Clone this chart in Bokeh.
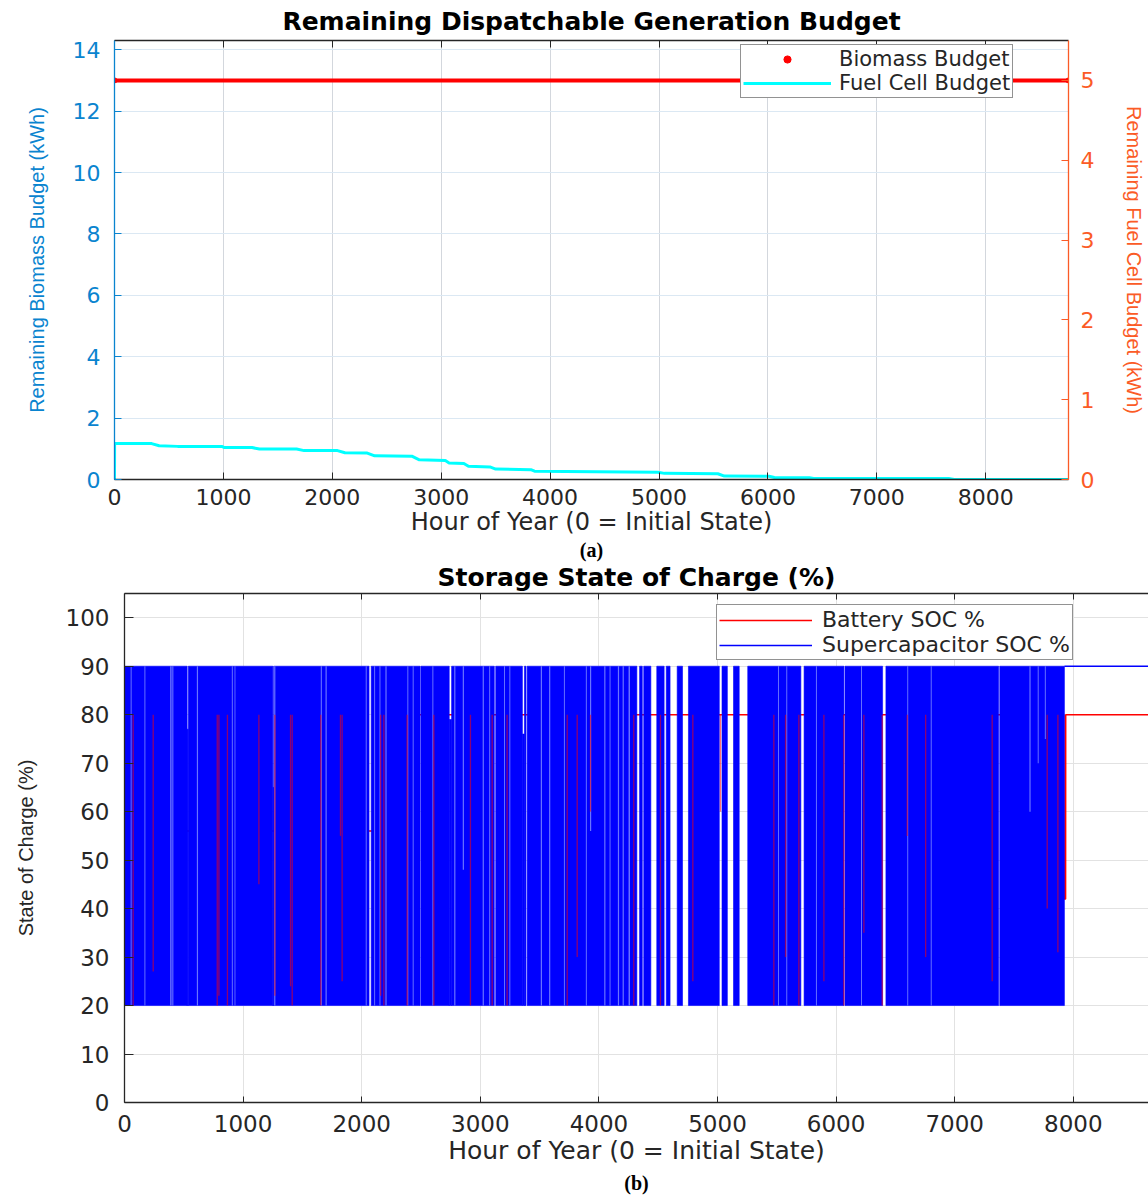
from bokeh.plotting import figure
from bokeh.models import (Range1d, LinearAxis, Legend, LegendItem, Title,
                          FixedTicker, ColumnDataSource, CustomLabelingPolicy)
from bokeh.layouts import column, row
from bokeh.embed import file_html
from bokeh.resources import INLINE

# ------------------------------------------------------------------ data
HOUR_TICKS = [0, 1000, 2000, 3000, 4000, 5000, 6000, 7000, 8000]
BIOMASS_TICKS = [0, 2, 4, 6, 8, 10, 12, 14]
FUELCELL_TICKS = [0, 1, 2, 3, 4, 5]
SOC_TICKS = [0, 10, 20, 30, 40, 50, 60, 70, 80, 90, 100]

# panel (a): remaining budgets
biomass_hours = [0, 8760]
biomass_kwh = [13.0, 13.0]

fuelcell_hours = [0, 1, 341, 410, 580, 990, 1010, 1263, 1331, 1672, 1741, 2048,
                  2116, 2321, 2389, 2730, 2799, 3038, 3072, 3208, 3250, 3447,
                  3500, 3823, 3857, 4990, 5050, 5540, 5600, 6010, 6060, 6380,
                  6420, 7660, 7710, 8760]
fuelcell_kwh = [0.0, 0.450, 0.450, 0.423, 0.415, 0.412, 0.400, 0.400, 0.381,
                0.381, 0.362, 0.362, 0.335, 0.331, 0.296, 0.292, 0.246, 0.238,
                0.208, 0.200, 0.165, 0.158, 0.131, 0.123, 0.104, 0.092, 0.077,
                0.072, 0.043, 0.040, 0.025, 0.023, 0.012, 0.012, 0.0, 0.0]

# panel (b): supercapacitor cycling bands (hours where SOC swings 20 <-> top)
sc_band_start = [0, 528, 538, 1251, 1258, 2080, 2499, 2738, 2758, 3130, 3355,
                 3372, 3395, 4343, 4378, 4488, 4568, 4660, 4755, 5038, 5135,
                 5255, 5730, 6075, 6420, 7380]
sc_band_end = [528, 538, 1251, 1258, 2062, 2492, 2738, 2758, 3118, 3355, 3372,
               3385, 4320, 4366, 4438, 4550, 4600, 4705, 5015, 5083, 5183,
               5703, 6066, 6392, 7370, 7925]
sc_band_top = [90, 77, 90, 65, 90, 90, 90, 79, 90, 90, 76, 90, 90, 90, 90, 90,
               90, 90, 90, 90, 90, 90, 90, 90, 90, 90]
sc_band_low = [20] * 26

# sparser cycling (lighter streaks)
sc_light_start = [52, 168, 385, 403, 610, 905, 928, 1262, 1655, 1695, 2034,
                  2105, 2150, 2200, 2385, 2430, 2596, 2780, 2852, 3020, 3075,
                  3200, 3245, 3510, 3580, 3705, 3890, 3925, 4045, 4090, 4160,
                  4200, 4250, 5510, 5580, 5830, 6210, 6600, 6798, 7630, 7700,
                  7760]
sc_light_end = [60, 176, 397, 412, 620, 913, 935, 1272, 1664, 1705, 2042,
                2113, 2158, 2210, 2393, 2438, 2604, 2790, 2862, 3030, 3083,
                3208, 3253, 3520, 3590, 3713, 3898, 3935, 4055, 4098, 4170,
                4210, 4262, 5518, 5588, 5838, 6218, 6608, 6806, 7640, 7708,
                7768]
sc_light_low = [20, 20, 20, 20, 20, 20, 20, 20, 20, 20, 20, 20, 20, 20, 20, 20,
                20, 20, 48, 20, 20, 20, 20, 20, 20, 20, 20, 56, 20, 20, 20, 20,
                20, 20, 20, 20, 20, 20, 20, 60, 70, 75]
sc_light_top = [90] * 42

sc_tail_hours = [7925, 8760]
sc_tail_soc = [90, 90]

# battery
batt_hours = [0, 4, 2290, 2300, 7920, 7922, 7935, 7936, 8760]
batt_soc = [70, 56, 56, 80, 80, 42, 42, 80, 80]
batt_dip_hours = [73, 242, 782, 796, 868, 1133, 1268, 1400, 1414, 1655, 1821,
                  1835, 2160, 2187, 2383, 2608, 2917, 3100, 3226, 3733, 3817,
                  3929, 4294, 4519, 4792, 5025, 5475, 5574, 5686, 5897, 6065,
                  6234, 6389, 6600, 6755, 7316, 7780, 7870]
batt_dip_soc = [20, 27, 20, 22, 20, 45, 22, 24, 20, 20, 55, 25, 22, 20, 20, 20,
                20, 20, 20, 20, 30, 60, 20, 20, 25, 60, 20, 30, 20, 25, 20, 35,
                20, 55, 30, 25, 40, 31]
batt_dip_high = [80] * 38

# ------------------------------------------------------------------ styles
DARK = "#262626"
LBLUE = "#0a84cf"
ORANGE = "#fb5b26"
SANS = "DejaVu Sans"
ROT = "Liberation Sans"
NO_LABELS = CustomLabelingPolicy(code="""
    for (const i of Array.from(indices)) indices.unset(i)
    return indices
""")

# ================================================================= panel (a)
p1 = figure(width=1148, height=562, x_range=Range1d(0, 8760),
            y_range=Range1d(0, 14.3), output_backend="svg",
            toolbar_location=None, title=None, x_axis_location=None,
            y_axis_location=None,
            min_border_left=114, min_border_right=79, min_border_top=40,
            min_border_bottom=83)
p1.outline_line_color = None
p1.background_fill_color = "white"
p1.border_fill_color = "white"
p1.extra_y_ranges = {"fc": Range1d(0, 5.5)}

ax_b = LinearAxis(ticker=FixedTicker(ticks=HOUR_TICKS),
                  axis_label="Hour of Year (0 = Initial State)")
ax_l = LinearAxis(ticker=FixedTicker(ticks=BIOMASS_TICKS),
                  axis_label="Remaining Biomass Budget (kWh)")
ax_r = LinearAxis(ticker=FixedTicker(ticks=FUELCELL_TICKS), y_range_name="fc",
                  axis_label="Remaining Fuel Cell Budget (kWh)")
ax_t = LinearAxis(ticker=FixedTicker(ticks=HOUR_TICKS),
                  major_label_policy=NO_LABELS)

for ax, col in ((ax_b, DARK), (ax_t, DARK), (ax_l, LBLUE), (ax_r, ORANGE)):
    ax.axis_line_color = col
    ax.axis_line_width = 1.3
    ax.major_tick_line_color = col
    ax.major_tick_in = 7
    ax.major_tick_out = 0
    ax.minor_tick_line_color = None
    ax.major_label_text_color = col
    ax.major_label_text_font = SANS
    ax.major_label_text_font_size = "22px"
    ax.axis_label_text_color = col
    ax.axis_label_text_font_style = "normal"

ax_b.major_label_standoff = 9
ax_b.axis_label_text_font = SANS
ax_b.axis_label_text_font_size = "24px"
ax_b.axis_label_standoff = 0
ax_t.major_label_standoff = 0
ax_t.major_label_text_font_size = "1px"
ax_l.major_label_standoff = 14
ax_l.axis_label_standoff = 22
ax_l.axis_label_text_font = ROT
ax_l.axis_label_text_font_size = "20px"
ax_r.major_label_standoff = 12
ax_r.axis_label_standoff = 26
ax_r.axis_label_text_font = ROT
ax_r.axis_label_text_font_size = "20px"

p1.add_layout(ax_b, "below")
p1.add_layout(Title(text="(a)", align="center", text_font="Liberation Serif",
                    text_font_size="20px", text_font_style="bold",
                    text_color="black", standoff=-4), "below")
p1.add_layout(ax_l, "left")
p1.add_layout(ax_r, "right")
p1.add_layout(ax_t, "above")
p1.add_layout(Title(text="Remaining Dispatchable Generation Budget",
                    align="center", text_font=SANS, text_font_size="25px",
                    text_font_style="bold", text_color="black", standoff=2),
              "above")

p1.xgrid.ticker = FixedTicker(ticks=HOUR_TICKS)
p1.ygrid.ticker = FixedTicker(ticks=BIOMASS_TICKS)
p1.xgrid.grid_line_color = "#d3d7dd"
p1.ygrid.grid_line_color = "#dbe8f3"

src_bio = ColumnDataSource(dict(h=biomass_hours, v=biomass_kwh))
src_fc = ColumnDataSource(dict(h=fuelcell_hours, v=fuelcell_kwh))
p1.line("h", "v", source=src_bio, line_color="red", line_width=4)
bio_dot = p1.scatter("h", "v", source=src_bio, marker="circle", size=5,
                     color="red")
fc_line = p1.line("h", "v", source=src_fc, y_range_name="fc",
                  line_color="cyan", line_width=3)

leg1 = Legend(items=[LegendItem(label="Biomass Budget", renderers=[bio_dot]),
                     LegendItem(label="Fuel Cell Budget", renderers=[fc_line])],
              location=(626, 381), orientation="vertical",
              label_text_font=SANS, label_text_font_size="21px",
              label_text_color=DARK, glyph_width=88, glyph_height=18,
              label_standoff=8, padding=2, spacing=0, margin=0,
              border_line_color=DARK, border_line_width=1.2,
              background_fill_color="white", background_fill_alpha=1.0)
p1.add_layout(leg1, "center")

# ================================================================= panel (b)
p2 = figure(width=1148, height=634, x_range=Range1d(0, 8634),
            y_range=Range1d(0, 105), output_backend="svg",
            toolbar_location=None, title=None, x_axis_location=None,
            y_axis_location=None,
            min_border_left=124, min_border_right=0, min_border_top=31,
            min_border_bottom=94)
p2.outline_line_color = None
p2.border_fill_color = "white"

bx_b = LinearAxis(ticker=FixedTicker(ticks=HOUR_TICKS),
                  axis_label="Hour of Year (0 = Initial State)")
bx_l = LinearAxis(ticker=FixedTicker(ticks=SOC_TICKS),
                  axis_label="State of Charge (%)")
bx_t = LinearAxis(ticker=FixedTicker(ticks=HOUR_TICKS),
                  major_label_policy=NO_LABELS)
for ax in (bx_b, bx_l, bx_t):
    ax.axis_line_color = DARK
    ax.axis_line_width = 1.3
    ax.major_tick_line_color = DARK
    ax.major_tick_out = 0
    ax.major_tick_in = 6
    ax.minor_tick_line_color = None
    ax.major_label_text_color = DARK
    ax.major_label_text_font = SANS
    ax.major_label_text_font_size = "23px"
    ax.axis_label_text_color = DARK
    ax.axis_label_text_font_style = "normal"
bx_l.major_tick_in = 9
bx_b.major_label_standoff = 12
bx_b.axis_label_text_font = SANS
bx_b.axis_label_text_font_size = "25px"
bx_b.axis_label_standoff = 1
bx_l.major_label_standoff = 15
bx_l.axis_label_standoff = 26
bx_l.axis_label_text_font = ROT
bx_l.axis_label_text_font_size = "20px"
bx_t.major_label_standoff = 0
bx_t.major_label_text_font_size = "1px"

p2.add_layout(bx_b, "below")
p2.add_layout(Title(text="(b)", align="center", text_font="Liberation Serif",
                    text_font_size="20px", text_font_style="bold",
                    text_color="black", standoff=5), "below")
p2.add_layout(bx_l, "left")
p2.add_layout(bx_t, "above")
p2.add_layout(Title(text="Storage State of Charge (%)", align="center",
                    text_font=SANS, text_font_size="25px",
                    text_font_style="bold", text_color="black", standoff=-4),
              "above")

p2.xgrid.ticker = FixedTicker(ticks=HOUR_TICKS)
p2.ygrid.ticker = FixedTicker(ticks=SOC_TICKS)
p2.xgrid.grid_line_color = "#e2e2e2"
p2.ygrid.grid_line_color = "#e2e2e2"

src_batt = ColumnDataSource(dict(h=batt_hours, v=batt_soc))
batt_line = p2.line("h", "v", source=src_batt, line_color="red",
                    line_width=1.5)

src_band = ColumnDataSource(dict(l=sc_band_start, r=sc_band_end,
                                 b=sc_band_low, t=sc_band_top))
p2.quad(left="l", right="r", bottom="b", top="t", source=src_band,
        fill_color="#0000ff", line_color="#0000ff", line_width=0.6)

src_light = ColumnDataSource(dict(l=sc_light_start, r=sc_light_end,
                                  b=sc_light_low, t=sc_light_top))
p2.quad(left="l", right="r", bottom="b", top="t", source=src_light,
        fill_color="#7d88ff", line_color=None, fill_alpha=0.85)

src_dip = ColumnDataSource(dict(h=batt_dip_hours, lo=batt_dip_soc,
                                hi=batt_dip_high))
p2.segment(x0="h", y0="hi", x1="h", y1="lo", source=src_dip,
           line_color="red", line_alpha=0.55, line_width=1.3)

src_tail = ColumnDataSource(dict(h=sc_tail_hours, v=sc_tail_soc))
sc_line = p2.line("h", "v", source=src_tail, line_color="#0000ff",
                  line_width=1.5)

leg2 = Legend(items=[LegendItem(label="Battery SOC %", renderers=[batt_line]),
                     LegendItem(label="Supercapacitor SOC %",
                                renderers=[sc_line])],
              location=(592, 442), orientation="vertical",
              label_text_font=SANS, label_text_font_size="22px",
              label_text_color=DARK, glyph_width=93, glyph_height=20,
              label_standoff=10, padding=2, spacing=0, margin=0,
              border_line_color=DARK, border_line_width=1.2,
              background_fill_color="white", background_fill_alpha=1.0)
p2.add_layout(leg2, "center")

layout = column(row(p1), row(p2), spacing=0)
open("out.html", "w").write(file_html(layout, INLINE))
